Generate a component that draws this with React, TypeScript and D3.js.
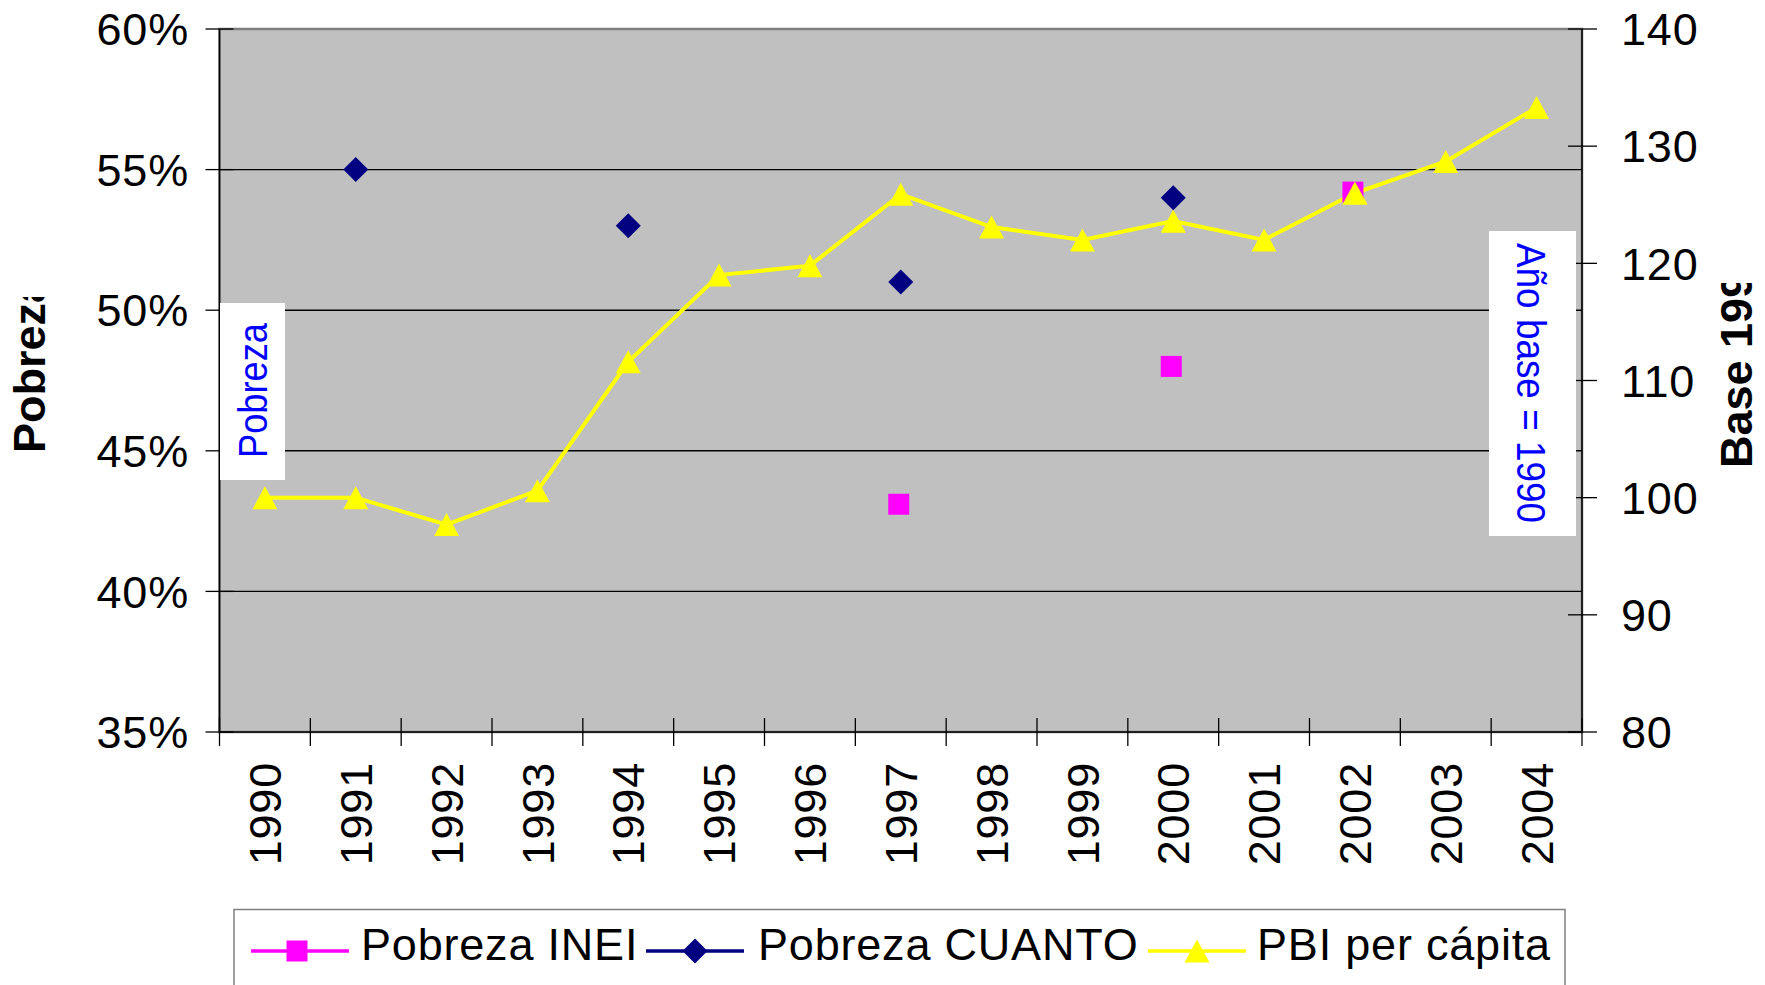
import * as d3 from 'd3';

const years = ['1990', '1991', '1992', '1993', '1994', '1995', '1996', '1997', '1998', '1999', '2000', '2001', '2002', '2003', '2004'];
// poverty rates in %, only observed years
const pobrezaINEI: (number | null)[] = [null, null, null, null, null, null, null, 43.1, null, null, 48.0, null, 54.2, null, null];
const pobrezaCuanto: (number | null)[] = [null, 55.0, null, null, 53.0, null, null, 51.0, null, null, 54.0, null, null, null, null];
// GDP per capita index, 1990 = 100
const pbiPerCapita = [100, 100, 97.7, 100.6, 111.6, 119.0, 119.8, 125.9, 123.1, 122.0, 123.6, 122.0, 126.0, 128.7, 133.3];

const leftTicks = [35, 40, 45, 50, 55, 60];
const rightTicks = [80, 90, 100, 110, 120, 130, 140];

const legendItems = ['Pobreza INEI', 'Pobreza CUANTO', 'PBI per cápita'];

const W = 1765;
const H = 985;
const plot = { left: 219.5, right: 1582, top: 29, bottom: 732 };
const font = '"Liberation Sans", Arial, sans-serif';
const fs = 45;
const ls = 0.8;

const x = d3.scaleBand<string>().domain(years).range([plot.left, plot.right]).padding(0);
const yLeft = d3.scaleLinear().domain([35, 60]).range([plot.bottom, plot.top]);
const yRight = d3.scaleLinear().domain([80, 140]).range([plot.bottom, plot.top]);
const cx = (y: string) => (x(y) as number) + x.bandwidth() / 2;

const tri = (px: number, py: number, s = 12.5) =>
  `M${px},${py - s * 0.92}L${px + s},${py + s * 0.92}L${px - s},${py + s * 0.92}Z`;
const dia = (px: number, py: number, s = 12.5) =>
  `M${px},${py - s}L${px + s},${py}L${px},${py + s}L${px - s},${py}Z`;
const sq = (px: number, py: number, s = 10.5) =>
  `M${px - s},${py - s}h${2 * s}v${2 * s}h${-2 * s}Z`;

export default function App() {
  const pbiLine = d3
    .line<number>()
    .x((_, i) => cx(years[i]))
    .y(d => yRight(d));

  const boundaries = years.map(y => x(y) as number).concat([plot.right]);

  const legendX = [251, 646, 1148];
  const legendTextX = [361, 758, 1257];
  const legendY = 951;

  return (
    <svg width={W} height={H} style={{ position: 'absolute', left: 0, top: 0, background: '#fff' }} fontFamily={font}>
      <defs>
        <clipPath id="clipL"><rect x={0} y={297} width={200} height={400} /></clipPath>
        <clipPath id="clipR"><rect x={1700} y={283} width={65} height={400} /></clipPath>
      </defs>

      {/* plot area */}
      <rect x={plot.left} y={plot.top} width={plot.right - plot.left} height={plot.bottom - plot.top}
        fill="#C0C0C0" stroke="#808080" strokeWidth={2.5} />

      {/* gridlines */}
      {leftTicks.slice(1, -1).map(t => (
        <line key={t} x1={plot.left} x2={plot.right} y1={yLeft(t)} y2={yLeft(t)} stroke="#000" strokeWidth={1.4} />
      ))}

      {/* axis lines */}
      <line x1={plot.left} x2={plot.left} y1={plot.top} y2={plot.bottom} stroke="#000" strokeWidth={1.5} />
      <line x1={plot.right} x2={plot.right} y1={plot.top} y2={plot.bottom} stroke="#000" strokeWidth={1.5} />
      <line x1={plot.left} x2={plot.right} y1={plot.bottom} y2={plot.bottom} stroke="#000" strokeWidth={1.5} />

      {/* left axis */}
      {leftTicks.map(t => (
        <g key={t}>
          <line x1={plot.left - 14} x2={plot.left + 14} y1={yLeft(t)} y2={yLeft(t)} stroke="#000" strokeWidth={1.3} />
          <text x={189} y={yLeft(t)} dy="0.36em" textAnchor="end" fontSize={fs} letterSpacing={ls}>{t}%</text>
        </g>
      ))}

      {/* right axis */}
      {rightTicks.map(t => (
        <g key={t}>
          <line x1={plot.right - 14} x2={plot.right + 15} y1={yRight(t)} y2={yRight(t)} stroke="#000" strokeWidth={1.3} />
          <text x={1621} y={yRight(t)} dy="0.36em" textAnchor="start" fontSize={fs} letterSpacing={ls}>{t}</text>
        </g>
      ))}

      {/* x axis */}
      {boundaries.map((b, i) => (
        <line key={i} x1={b} x2={b} y1={plot.bottom - 14} y2={plot.bottom + 14} stroke="#000" strokeWidth={1.3} />
      ))}
      {years.map(y => (
        <text key={y} transform={`translate(${cx(y)},762) rotate(-90)`} dy="0.36em" textAnchor="end" fontSize={fs} letterSpacing={ls}>{y}</text>
      ))}

      {/* axis titles, cut off like the original */}
      <g clipPath="url(#clipL)">
        <text transform="translate(45,453) rotate(-90)" fontSize={fs} fontWeight="bold">Pobreza</text>
      </g>
      <g clipPath="url(#clipR)">
        <text transform="translate(1752,468) rotate(-90)" fontSize={fs} fontWeight="bold">Base 1990</text>
      </g>

      {/* annotation boxes */}
      <rect x={220} y={303} width={65} height={177} fill="#fff" />
      <text transform="translate(267,458) rotate(-90)" fontSize={40} fill="#0000FF" textLength={135} lengthAdjust="spacingAndGlyphs">Pobreza</text>
      <rect x={1489} y={231} width={87} height={305} fill="#fff" />
      <text transform="translate(1517,243) rotate(90)" fontSize={40} fill="#0000FF" textLength={280} lengthAdjust="spacingAndGlyphs">Año base = 1990</text>

      {/* PBI per cápita */}
      <path d={pbiLine(pbiPerCapita) || ''} fill="none" stroke="#FFFF00" strokeWidth={4} />
      {pbiPerCapita.map((v, i) => (
        <path key={i} d={tri(cx(years[i]), yRight(v))} fill="#FFFF00" />
      ))}

      {/* Pobreza CUANTO */}
      {pobrezaCuanto.map((v, i) => v == null ? null : (
        <path key={i} d={dia(cx(years[i]), yLeft(v))} fill="#000080" />
      ))}

      {/* Pobreza INEI */}
      {pobrezaINEI.map((v, i) => v == null ? null : (
        <path key={i} d={sq(cx(years[i]) - 2, yLeft(v))} fill="#FF00FF" />
      ))}
      {/* PBI 2002 triangle drawn over the INEI square as in the original */}
      <path d={tri(cx(years[12]), yRight(pbiPerCapita[12]))} fill="#FFFF00" />

      {/* legend */}
      <rect x={234} y={909.5} width={1331} height={100} fill="#fff" stroke="#808080" strokeWidth={1.5} />
      {legendItems.map((name, i) => {
        const lx = legendX[i];
        const mid = lx + 49;
        const color = ['#FF00FF', '#000080', '#FFFF00'][i];
        const marker = i === 0 ? sq(mid - 3, legendY) : i === 1 ? dia(mid, legendY) : tri(mid, legendY);
        return (
          <g key={name}>
            <line x1={lx} x2={lx + 98} y1={legendY} y2={legendY} stroke={color} strokeWidth={3.5} />
            <path d={marker} fill={color} />
            <text x={legendTextX[i]} y={960} fontSize={fs} letterSpacing={ls}>{name}</text>
          </g>
        );
      })}
    </svg>
  );
}
